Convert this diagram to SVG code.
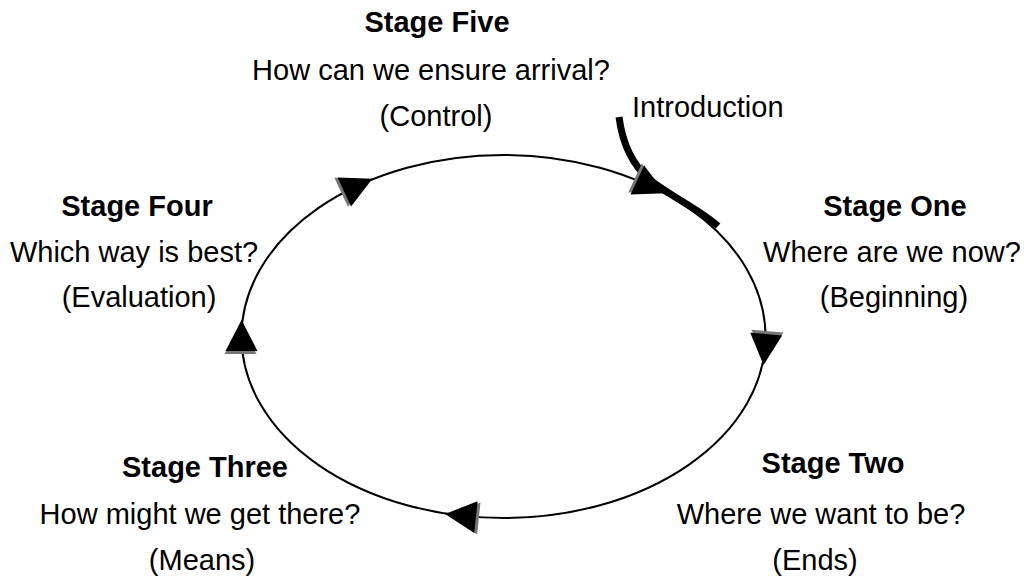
<svg xmlns="http://www.w3.org/2000/svg" width="1030" height="580" viewBox="0 0 1030 580">
  <style>
    text { font-family: "Liberation Sans", Arial, sans-serif; font-size: 29px; fill: #000; text-anchor: middle; }
    .title { font-weight: bold; }
    .cycle { fill: none; stroke: #000; stroke-width: 2; }
    .intro { fill: none; stroke: #000; stroke-width: 7; stroke-linecap: butt; }
    .head { fill: #000; }
    .shade { fill: #777; }
  </style>
  <defs>
    <!-- arrowhead pointing along +x, origin on the curve -->
    <g id="arrowhead">
      <polygon class="shade" points="-15,-16 16,0 -15,16" transform="translate(-2,-1)"/>
      <polygon class="head" points="-14,-16 17,0 -14,16"/>
    </g>
  </defs>

  <g id="connectors">
    <ellipse class="cycle" cx="503.5" cy="336.5" rx="262" ry="181.5"/>
    <path class="intro" d="M 619,117 C 622,140 630,163 650,180 C 672,197 700,210 718,226"/>
    <use href="#arrowhead" transform="translate(357,186) rotate(-25)"/>
    <use href="#arrowhead" transform="translate(650,186) rotate(25)"/>
    <use href="#arrowhead" transform="translate(765,348) rotate(95)"/>
    <use href="#arrowhead" transform="translate(462,515.7) rotate(186)"/>
    <use href="#arrowhead" transform="translate(241.5,337) rotate(-90)"/>
  </g>

  <g id="stage-five">
    <text class="title" x="437" y="32">Stage Five</text>
    <text x="431" y="80">How can we ensure arrival?</text>
    <text x="436" y="126">(Control)</text>
  </g>

  <g id="introduction">
    <text x="632" y="117" style="text-anchor:start">Introduction</text>
  </g>

  <g id="stage-four">
    <text class="title" x="137" y="216">Stage Four</text>
    <text x="134" y="262">Which way is best?</text>
    <text x="139" y="307">(Evaluation)</text>
  </g>

  <g id="stage-one">
    <text class="title" x="895" y="216">Stage One</text>
    <text x="892" y="262">Where are we now?</text>
    <text x="894" y="307">(Beginning)</text>
  </g>

  <g id="stage-two">
    <text class="title" x="833" y="473">Stage Two</text>
    <text x="821" y="524">Where we want to be?</text>
    <text x="815" y="570">(Ends)</text>
  </g>

  <g id="stage-three">
    <text class="title" x="205" y="477">Stage Three</text>
    <text x="200" y="524">How might we get there?</text>
    <text x="202" y="570">(Means)</text>
  </g>
</svg>
